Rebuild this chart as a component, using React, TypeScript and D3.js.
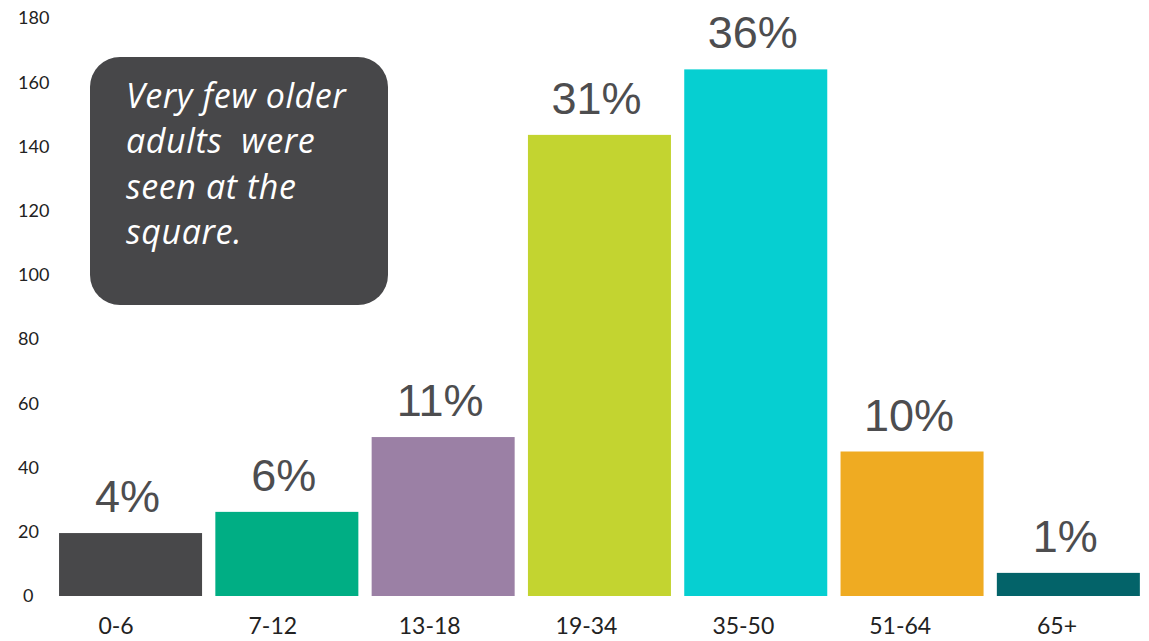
import * as d3 from 'd3';
import React from 'react';

const ageGroups = ['0-6', '7-12', '13-18', '19-34', '35-50', '51-64', '65+'];
const counts = [19.6, 26.2, 49.5, 143.6, 164, 45, 7.2];
const percentLabels = ['4%', '6%', '11%', '31%', '36%', '10%', '1%'];
const barColors = ['#48484a', '#00ae84', '#9b80a5', '#c3d430', '#06cfd1', '#efab22', '#036369'];
const yTicks = [0, 20, 40, 60, 80, 100, 120, 140, 160, 180];
const calloutLines = ['Very few older', 'adults  were', 'seen at the', 'square.'];

export default function App() {
  const width = 1149;
  const height = 641;

  const y = d3.scaleLinear().domain([0, 180]).range([596, 18]);
  const x = d3
    .scaleBand()
    .domain(ageGroups)
    .range([52.4, 1146.5])
    .paddingInner(0.085)
    .paddingOuter(0.0425);
  // category labels sit on their own spacing, slightly off the bar centres
  const xLabel = d3.scalePoint().domain(ageGroups).range([116, 1057]);

  return (
    <svg
      width={width}
      height={height}
      style={{ position: 'absolute', left: 0, top: 0, background: '#fff' }}
    >
      {/* y axis labels */}
      <g fontFamily="Lato, 'Open Sans', sans-serif" fontSize={18} fill="#222">
        {yTicks.map(t => (
          <text key={t} x={t === 0 ? 23 : 18} y={y(t)} dy="0.35em">
            {t}
          </text>
        ))}
      </g>

      {/* bars */}
      {ageGroups.map((g, i) => (
        <rect
          key={g}
          x={x(g)}
          y={y(counts[i])}
          width={x.bandwidth()}
          height={y(0) - y(counts[i])}
          fill={barColors[i]}
        />
      ))}

      {/* percent labels */}
      <g fontFamily="'Liberation Sans', Arial, sans-serif" fontSize={45} fill="#4d4d4f" textAnchor="middle">
        {ageGroups.map((g, i) => (
          <text key={g} x={(x(g) ?? 0) + x.bandwidth() / 2 - 3} y={y(counts[i]) - 21}>
            {percentLabels[i]}
          </text>
        ))}
      </g>

      {/* x labels */}
      <g fontFamily="Lato, 'Open Sans', sans-serif" fontSize={23} fill="#222" textAnchor="middle">
        {ageGroups.map(g => (
          <text key={g} x={xLabel(g)} y={634}>
            {g}
          </text>
        ))}
      </g>

      {/* callout */}
      <rect x={90} y={57} width={298} height={248} rx={30} ry={30} fill="#474749" />
      <g
        fontFamily="'Open Sans', Lato, sans-serif"
        fontStyle="italic"
        fontSize={34}
        letterSpacing={0.6}
        fill="#fff"
      >
        {calloutLines.map((line, i) => (
          <text key={i} x={126} y={108 + i * 45.3} style={{ whiteSpace: 'pre' }}>
            {line}
          </text>
        ))}
      </g>
    </svg>
  );
}
